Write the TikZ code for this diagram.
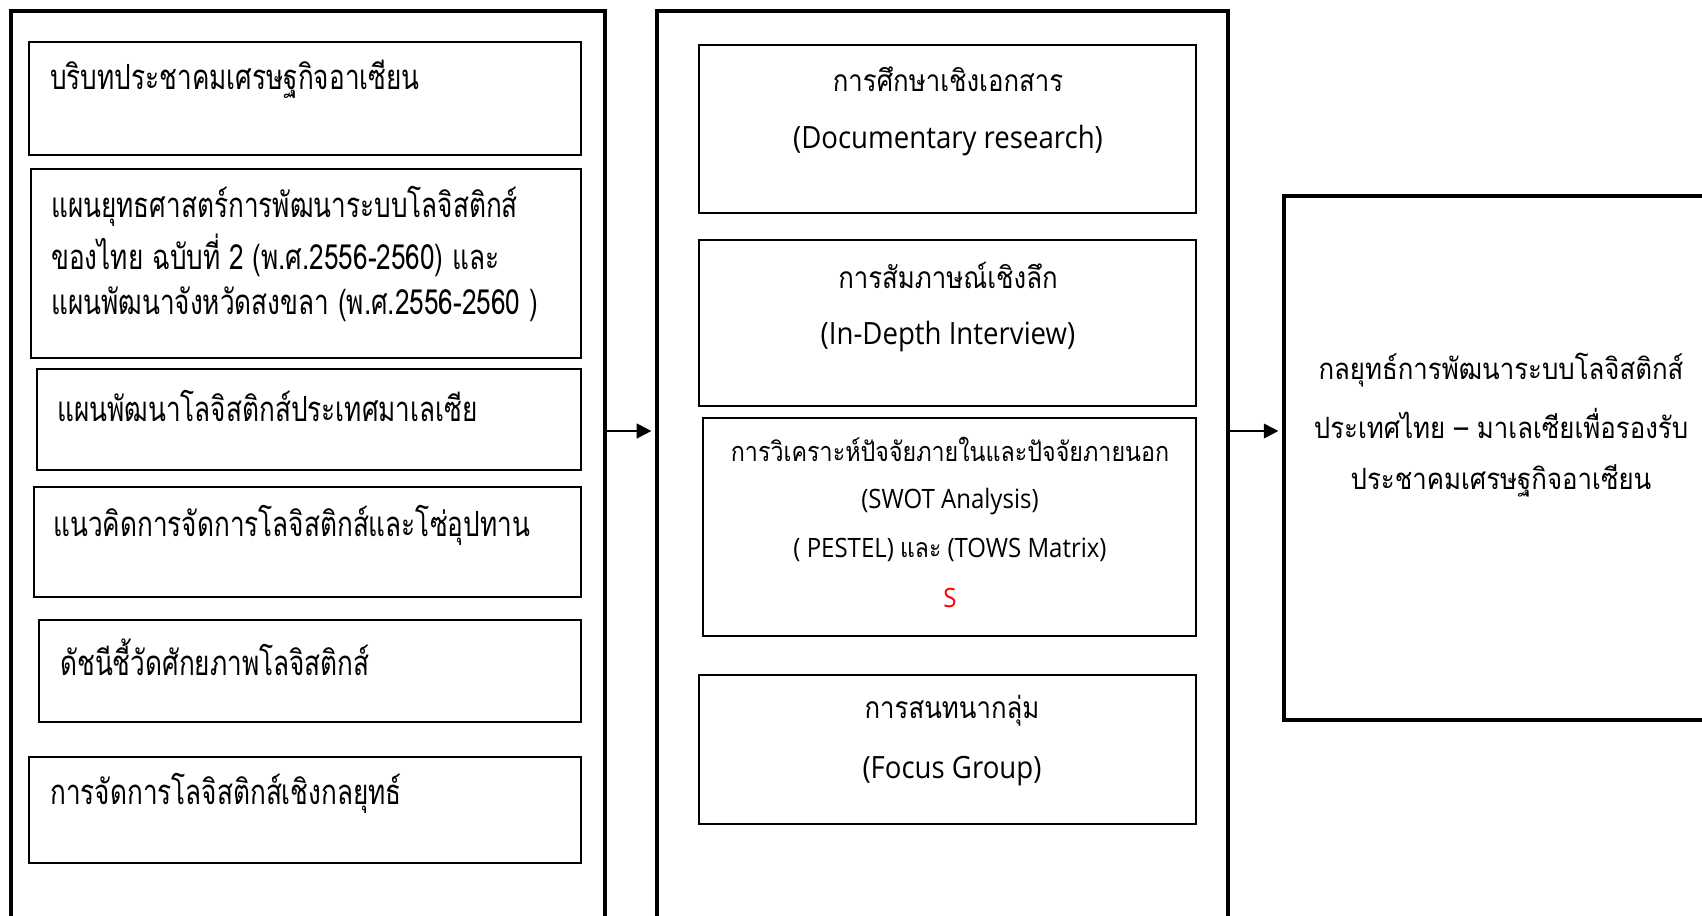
\documentclass[tikz,border=0pt]{standalone}
\usepackage{fontspec}
\setmainfont[Script=Thai]{Loma}
\newfontfamily\thaiL[Script=Thai,FakeStretch=0.755]{Loma}
\newfontfamily\thaiM[Script=Thai,FakeStretch=0.86]{Loma}
\newfontfamily\thaiR[Script=Thai,FakeStretch=0.88]{Loma}
\newfontfamily\latM[FakeStretch=0.9]{Open Sans}
\usetikzlibrary{arrows.meta,fit}
\tikzset{
  outerbox/.style={draw=black, line width=3.4pt, inner sep=0pt},
  inbox/.style={draw=black, line width=1.4pt, inner sep=0pt},
  ltxt/.style={anchor=west, inner sep=0pt, font=\thaiL\fontsize{26}{30}\selectfont},
  mtxt/.style={anchor=center, inner sep=0pt},
  mthai/.style={font=\thaiM\fontsize{22.5}{26}\selectfont},
  mlat/.style={font=\latM\fontsize{23}{27}\selectfont},
  mlatsmall/.style={font=\latM\fontsize{20}{24}\selectfont},
  conn/.style={line width=1.6pt, -{Triangle[length=11pt,width=11pt]}},
}
\begin{document}
\begin{tikzpicture}[x=0.75pt, y=-0.75pt]
\useasboundingbox (0,0) rectangle (1702,916);
\clip (0,0) rectangle (1702,916);
\fill[white] (0,0) rectangle (1702,916);
% left column
\node[outerbox, fit={(11,11) (605,935)}] (L) {};
\node[inbox, fit={(29,42) (581,155)}] (b1) {};
\node[inbox, fit={(31,169) (581,358)}] (b2) {};
\node[inbox, fit={(37,369) (581,470)}] (b3) {};
\node[inbox, fit={(34,487) (581,597)}] (b4) {};
\node[inbox, fit={(39,620) (581,722)}] (b5) {};
\node[inbox, fit={(29,757) (581,863)}] (b6) {};
\node[ltxt] (t1) at (50,79) {บริบทประชาคมเศรษฐกิจอาเซียน};
\node[ltxt] (t2a) at (51,206) {แผนยุทธศาสตร์การพัฒนาระบบโลจิสติกส์};
\node[ltxt] (t2b) at (51,255) {ของไทย ฉบับที่ 2 (พ.ศ.2556-2560) และ};
\node[ltxt] (t2c) at (51,304) {แผนพัฒนาจังหวัดสงขลา (พ.ศ.2556-2560 )};
\node[ltxt] (t3) at (57,406) {แผนพัฒนาโลจิสติกส์ประเทศมาเลเซีย};
\node[ltxt] (t4) at (53,525) {แนวคิดการจัดการโลจิสติกส์และโซ่อุปทาน};
\node[ltxt] (t5) at (60,657) {ดัชนีชี้วัดศักยภาพโลจิสติกส์};
\node[ltxt] (t6) at (50,793) {การจัดการโลจิสติกส์เชิงกลยุทธ์};
% middle column
\node[outerbox, fit={(657,11) (1228,935)}] (M) {};
\node[inbox, fit={(699,45) (1196,213)}] (m1) {};
\node[inbox, fit={(699,240) (1196,406)}] (m2) {};
\node[inbox, fit={(703,418) (1196,636)}] (m3) {};
\node[inbox, fit={(699,675) (1196,824)}] (m4) {};
\node[mtxt, mthai] (s1a) at (948,79) {การศึกษาเชิงเอกสาร};
\node[mtxt, mlat] (s1b) at (948,141) {(Documentary research)};
\node[mtxt, mthai] (s2a) at (948,275) {การสัมภาษณ์เชิงลึก};
\node[mtxt, mlat] (s2b) at (948,337) {(In-Depth Interview)};
\node[mtxt, font=\thaiM\fontsize{20.3}{24}\selectfont] (s3a) at (950,449) {การวิเคราะห์ปัจจัยภายในและปัจจัยภายนอก};
\node[mtxt, mlatsmall] (s3b) at (950,502) {(SWOT Analysis)};
\node[mtxt, mlatsmall] (s3c) at (950,550) {( PESTEL) {\thaiM และ} (TOWS Matrix)};
\node[mtxt, mlatsmall, text=red] (s3d) at (950,598) {S};
\node[mtxt, mthai] (s4a) at (952,711) {การสนทนากลุ่ม};
\node[mtxt, mlat] (s4b) at (952,771) {(Focus Group)};
% right box
\node[outerbox, fit={(1284,196) (1712,720)}] (R) {};
\node[mtxt, font=\thaiR\fontsize{22}{26}\selectfont] (r1) at (1501,370) {กลยุทธ์การพัฒนาระบบโลจิสติกส์};
\node[mtxt, font=\thaiR\fontsize{22}{26}\selectfont] (r2) at (1501,423) {ประเทศไทย – มาเลเซียเพื่อรองรับ};
\node[mtxt, font=\thaiR\fontsize{22}{26}\selectfont] (r3) at (1501,481) {ประชาคมเศรษฐกิจอาเซียน};
% connectors
\coordinate (ya) at (0,431);
\draw[conn, shorten <=-1pt, shorten >=2.5pt] (L.east |- ya) -- (M.west |- ya);
\draw[conn, shorten <=-1pt, shorten >=2.5pt] (M.east |- ya) -- (R.west |- ya);
\end{tikzpicture}
\end{document}
